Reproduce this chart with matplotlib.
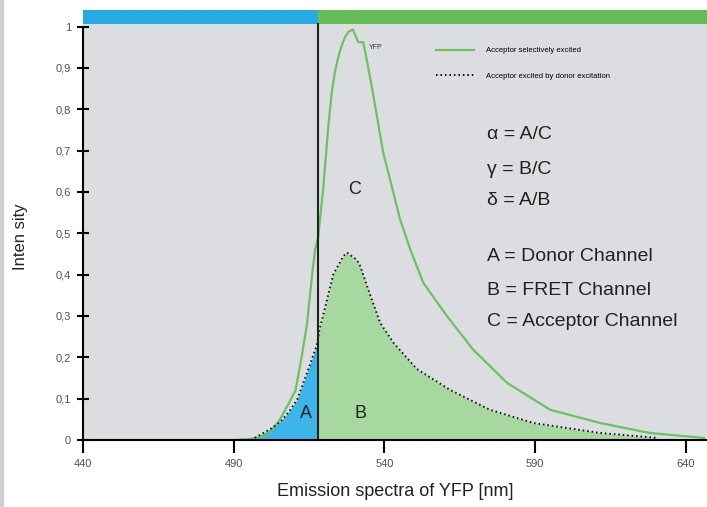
import numpy as np
import matplotlib.pyplot as plt

plt.rcParams['font.family'] = ['Liberation Sans', 'DejaVu Sans']

# Acceptor selectively excited (solid green)
wl_acc = [490, 495, 499, 502, 505, 508, 510.5, 512.5, 514.3, 516, 517, 518, 519.7, 521.4,
          522.5, 523.7, 525, 526, 527, 528, 529.5, 531.3, 533, 535.8, 539.6, 545.2, 548.6,
          552.9, 560.7, 569.5, 580.7, 595, 611.6, 628, 646]
int_acc = [0.0, 0.002, 0.008, 0.02, 0.045, 0.085, 0.12, 0.2, 0.28, 0.40, 0.46, 0.49, 0.61, 0.76,
           0.84, 0.895, 0.935, 0.958, 0.975, 0.987, 0.993, 0.962, 0.962, 0.855, 0.695, 0.533,
           0.46, 0.38, 0.30, 0.218, 0.138, 0.073, 0.041, 0.017, 0.005]

# Acceptor excited by donor excitation (dotted)
wl_fret = [497, 499.8, 503, 506, 508.5, 511, 514.3, 517.4, 518, 518.4, 520.4, 523, 526.3,
           527.6, 530.8, 532, 535.3, 538.6, 540.8, 543, 550.7, 561.8, 575, 589.5, 611.6, 630.6]
int_fret = [0.005, 0.017, 0.03, 0.048, 0.07, 0.097, 0.162, 0.226, 0.245, 0.266, 0.323, 0.40,
            0.444, 0.453, 0.436, 0.42, 0.35, 0.283, 0.259, 0.235, 0.172, 0.121, 0.073, 0.041,
            0.017, 0.005]

cut = 518  # donor / FRET channel border
x_ticks = [440, 490, 540, 590, 640]
y_ticks = [0, 0.1, 0.2, 0.3, 0.4, 0.5, 0.6, 0.7, 0.8, 0.9, 1.0]
y_labels = ['0', '0,1', '0,2', '0,3', '0,4', '0,5', '0,6', '0,7', '0,8', '0,9', '1']

fig = plt.figure(figsize=(7.07, 5.07), dpi=100)
ax = fig.add_axes([83 / 707, 1 - 440 / 507, 624 / 707, 430 / 507])
ax.set_facecolor('#dcdde1')
ax.set_xlim(440, 647)
ax.set_ylim(0, 1.04)

# thin grey frame on the left edge of the page
fig.add_artist(plt.Line2D([0.003, 0.003], [0, 1], color='#d0d0d4', lw=3))

wl_f = np.array(wl_fret)
in_f = np.array(int_fret)
ax.fill_between(wl_f, 0, in_f, where=wl_f <= cut, color='#3db5e8', lw=0)
ax.fill_between(wl_f, 0, in_f, where=wl_f >= cut, color='#a7d89f', lw=0)

ax.plot(wl_acc, int_acc, color='#6cc25e', lw=1.6, label='Acceptor selectively excited')
ax.plot(wl_fret, int_fret, color='#111111', lw=1.4, ls=(0, (0.8, 1.5)),
        label='Acceptor excited by donor excitation')

ax.plot([cut, cut], [0, 1.005], color='#222222', lw=1.5)

# colour bar on top
ax.fill_between([440, cut], 1.005, 1.04, color='#27a9e1', lw=0)
ax.fill_between([cut, 647], 1.005, 1.04, color='#66bd58', lw=0)

for s in ['top', 'right']:
    ax.spines[s].set_visible(False)
ax.spines['left'].set_bounds(0, 1.0)
ax.spines['left'].set_linewidth(1.5)
ax.spines['bottom'].set_linewidth(1.5)

ax.set_xticks(x_ticks)
ax.set_xticklabels([str(t) for t in x_ticks])
ax.set_yticks(y_ticks)
ax.set_yticklabels(y_labels)
ax.tick_params(axis='y', direction='inout', length=9, width=1.5, labelsize=8,
               labelcolor='#4a4f66', pad=4)
ax.tick_params(axis='x', direction='out', length=9, width=1.5, labelsize=8,
               labelcolor='#4a4f66', pad=5)

ax.set_xlabel('Emission spectra of YFP [nm]', fontsize=13, color='#222222', labelpad=10)
fig.text(21 / 707, 1 - 237 / 507, 'Inten sity', rotation=90, fontsize=12,
         color='#222222', ha='center', va='center')

ax.text(537, 0.95, 'YFP', fontsize=5, color='#333333', ha='center', va='center')
ax.text(530, 0.605, 'C', fontsize=13, color='#222222', ha='center', va='center')
ax.text(514, 0.065, 'A', fontsize=13, color='#222222', ha='center', va='center')
ax.text(532, 0.065, 'B', fontsize=13, color='#222222', ha='center', va='center')

formulas = ['\u03b1 = A/C', '\u03b3 = B/C', '\u03b4 = A/B']
for t, yy in zip(formulas, [0.74, 0.655, 0.58]):
    ax.text(574, yy, t, fontsize=14, color='#222222', va='center')
channels = ['A = Donor Channel', 'B = FRET Channel', 'C = Acceptor Channel']
for t, yy in zip(channels, [0.443, 0.362, 0.286]):
    ax.text(574, yy, t, fontsize=14, color='#222222', va='center')

ax.legend(loc='upper left', bbox_to_anchor=(436 / 707, 1 - 47 / 507),
          bbox_transform=fig.transFigure, frameon=False, fontsize=5.5,
          handlelength=5, handletextpad=1.6, labelspacing=2.4, borderpad=0,
          borderaxespad=0)

fig.savefig('out.png', dpi=100)
